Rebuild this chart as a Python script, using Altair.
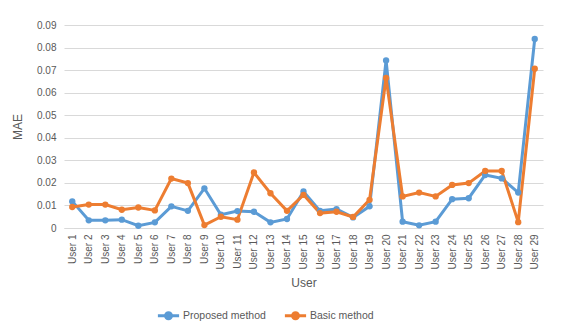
import altair as alt
import pandas as pd

users = [f"User {i}" for i in range(1, 30)]
proposed = [0.0118, 0.0034, 0.0034, 0.0037, 0.0010, 0.0025, 0.0096, 0.0076, 0.0176, 0.0059,
            0.0075, 0.0072, 0.0025, 0.0040, 0.0162, 0.0076, 0.0084, 0.0047, 0.0096, 0.0743,
            0.0028, 0.0012, 0.0028, 0.0128, 0.0132, 0.0235, 0.0220, 0.0157, 0.0838]
basic = [0.0093, 0.0104, 0.0104, 0.0081, 0.0091, 0.0078, 0.0219, 0.0199, 0.0013, 0.0050,
         0.0037, 0.0246, 0.0154, 0.0076, 0.0147, 0.0066, 0.0072, 0.0049, 0.0125, 0.0665,
         0.0140, 0.0157, 0.0140, 0.0191, 0.0199, 0.0253, 0.0253, 0.0026, 0.0706]
series = ["Proposed method", "Basic method"]
colors = ["#5B9BD5", "#ED7D31"]

rows = []
for u, p, b in zip(users, proposed, basic):
    rows.append({"User": u, "MAE": p, "Method": series[0]})
    rows.append({"User": u, "MAE": b, "Method": series[1]})
df = pd.DataFrame(rows)

font = "Liberation Sans"
sym = "M-1,0L1,0M-0.28,0A0.28,0.28 0 1,1 0.28,0A0.28,0.28 0 1,1 -0.28,0Z"

chart = alt.Chart(df).mark_line(
    strokeWidth=3, point=alt.OverlayMarkDef(size=40, filled=True)
).encode(
    x=alt.X("User:N", sort=users, scale=alt.Scale(type="point", padding=0.5),
            axis=alt.Axis(title="User", labelAngle=-90, labelAlign="right", labelBaseline="middle",
                          labelPadding=6, ticks=False, domainColor="#D9D9D9", grid=False,
                          labelColor="#595959", titleColor="#595959", labelFontSize=10,
                          titleFontSize=12, titleFontWeight="normal", titlePadding=8, labelFont=font, titleFont=font)),
    y=alt.Y("MAE:Q", scale=alt.Scale(domain=[0, 0.09]),
            axis=alt.Axis(title="MAE", values=[i / 100 for i in range(10)], format="~g", ticks=False,
                          domain=False, gridColor="#D9D9D9", labelColor="#595959", titleColor="#595959",
                          labelFontSize=10, titleFontSize=12, titleFontWeight="normal", labelPadding=8,
                          titlePadding=12, labelFont=font, titleFont=font)),
    color=alt.Color("Method:N", sort=series, scale=alt.Scale(domain=series, range=colors),
                    legend=alt.Legend(title=None, orient="none", legendX=92, legendY=278, direction="horizontal",
                                      symbolType=sym, symbolSize=450, symbolStrokeWidth=3,
                                      labelFont=font, labelFontSize=10.5, labelColor="#595959",
                                      columnPadding=12, labelOffset=2)),
).properties(
    width=479, height=203,
    autosize=alt.AutoSizeParams(type="none"),
    padding={"left": 56, "top": 17, "right": 16, "bottom": 98},
).configure_view(stroke=None)

chart.save("out.html", embed_options={"renderer": "svg", "actions": False})
